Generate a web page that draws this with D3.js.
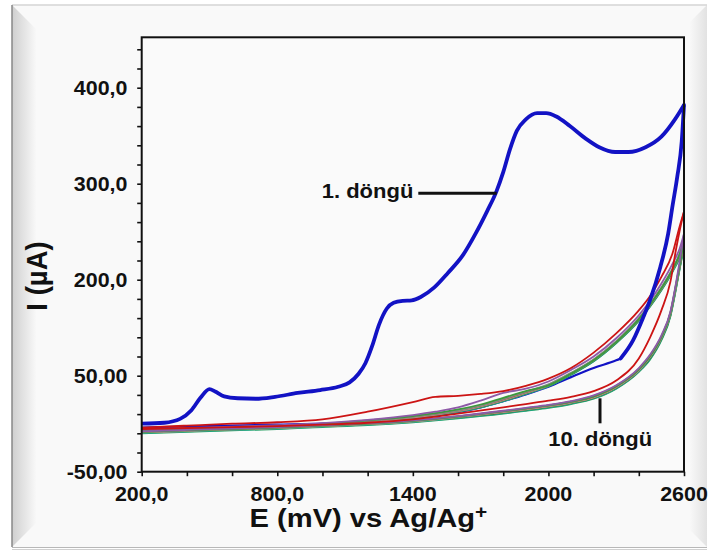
<!DOCTYPE html>
<html><head><meta charset="utf-8">
<script src="https://cdn.jsdelivr.net/npm/d3@7"></script>
<style>
html,body{margin:0;padding:0;background:#ffffff;}
svg{display:block;}
text{font-family:"Liberation Sans",Arial,sans-serif;font-weight:bold;fill:#111;}
</style></head>
<body>
<svg id="chart" width="718" height="551"></svg>
<script>
// ---------------- data ----------------
const xTickValues = [200, 800, 1400, 2000, 2600];
const xTickLabels = ["200,0", "800,0", "1400", "2000", "2600"];
const yTickValues = [0, 100, 200, 300, 400];
const yTickLabels = ["-50,00", "50,00", "200,0", "300,0", "400,0"];

// cycle 1 (blue)
const c1ForwardE = [200,300,370,420,460,500,525,565,625,705,790,890,990,1070,1120,1160,1190,1220,1250,1285,1315,1355,1395,1435,1495,1555,1620,1680,1730,1770,1800,1830,1860,1900,1950,1990,2035,2095,2165,2225,2295,2355,2430,2500,2560,2600];
const c1ForwardI = [50,51,55,64,77,86,83.5,78.5,76.5,76,78,82,85,88.5,93,102,113,131,153,170,176,178,178.5,182,192,207,225,249,272,292,312,336,355,367,373.5,373.5,370,360,347,338,333,333,338,349,367,382];
// reverse scan: steep thick part near the vertex, then thin inside the bundle
const c1ReverseHighE = [2600,2590,2570,2550,2530,2495,2450,2420,2375,2320];
const c1ReverseHighI = [382,344,307,278,248,213,179,161,137,118];
const c1ReverseLowE = [2320,2300,2200,2100,2000,1900,1800,1700,1600,1500,1400,1200,1000,800,600,400,200];
const c1ReverseLowI = [118,116,108,98.5,88.5,80.5,73.5,67,62,58.5,55.5,52,50,49,48,47,46];

// cycles 2-10 (thin lines)
const forwardE = [200,400,600,800,1000,1200,1400,1500,1600,1700,1800,1900,2000,2100,2200,2300,2400,2450,2500,2550,2580,2600];
const reverseE = [2600,2580,2565,2540,2500,2450,2400,2300,2200,2100,2000,1900,1800,1600,1400,1200,1000,800,600,400,200];
const cycleNames = ["2","3","4","5","6","7","8","9","10"];
const cycleColors = ["#cc1414","#8e5aa8","#3c9a3c","#8a8a8a","#957060","#d79a9a","#2e7d32","#20b0a0","#1f9c5a"];
const forwardI = [
  [46,48,50,51.5,54.5,62.5,72.5,78,79,81,84,89.5,97,108,124,144,168,183,203,228,255,271],
  [44,45.5,47,48.5,50.5,54,59,62.5,67,74,82,86.5,94,106,120,139,163,178,196,217,232,248],
  [43.5,45,46.5,48,50,53.5,58,61,65,70,77,84,90,102,116,135,159,174,191,211,226,241],
  [43,44.5,46,47.5,49.5,53,57.5,60.5,64,69,76,83.5,91,103,117,136,160,175,192,212,227,243],
  [42.5,44,45.5,47,49,52.5,57,60,63.5,68.5,75,82.5,90.5,102.5,116.5,135.5,159,174,191,211,226,240],
  [42.5,44,45.5,47,49,52,56.5,59.5,63,68,74.5,82,90,102,116,135,158.5,173.5,190.5,210.5,225,239],
  [42,43.5,45,46.5,48.5,52,56.5,59.5,63,67.5,74,81.5,89.5,101.5,115.5,134.5,158,173,190,210,224,237],
  [41.5,43,44.5,46,48,51.5,56,59,62.5,67,73.5,81,89,101,115,134,157.5,172.5,189.5,209,223,236],
  [41.5,43,44.5,46,48,51.5,56,59,62.5,67,73.5,81,89,101,115,134,157,172,189,208.5,222.5,235]
];
const reverseI = [
  [271,250,232,198,168,140,118,95,84,78,74,70.5,67,60.5,54.5,51,49,47.5,46.5,45.5,44.5],
  [248,218,197,167,142,122,108,90,79.5,73.5,69.5,66.5,63.5,58,53.5,50.5,48.5,46.5,45,43.5,42],
  [241,214,195,165.5,140.5,120.5,106.5,89,78.5,73,69,66,63,57.5,53,50,48,46,44.5,43,41.5],
  [243,215,195.5,166,141,121,107,89.5,79,73,69,66,63,57.5,53,50,48,46,44.5,43,41.5],
  [240,213,194,165,140,120,106,88.5,78,72.5,68.5,65.5,62.5,57.3,53,50,48,46,44.5,43,41.5],
  [239,212.5,193.5,164.5,139.5,119.5,105.5,88,77.5,72,68,65,62,57,52.5,49.5,47.5,45.5,44,42.5,41],
  [237,211.5,192.5,163.5,138.5,118.5,105,87.5,77,71.5,67.5,64.5,61.5,56.5,52.5,49.5,47.5,45.5,44,42.5,41],
  [236,211,192,163,138,118,104.5,87,76.5,71,67,64,61,56,52,49,47,45,43.5,42,40.5],
  [235,210,191,162,137,117,104,86.5,76,70.5,66.5,63.5,60.5,55.5,51.5,48.5,46.5,44.5,43,41.5,40]
];

// ---------------- drawing ----------------
const svg = d3.select("#chart");
const SX = 1.1; // horizontal stretch of the text in the reference

// outer frame with bevel
const defs = svg.append("defs");
const gl = defs.append("linearGradient").attr("id","gl").attr("x1","0").attr("x2","1").attr("y1","0").attr("y2","0");
gl.append("stop").attr("offset","0").attr("stop-color","#cfcfcf");
gl.append("stop").attr("offset","1").attr("stop-color","#f8f8f8");
const gr = defs.append("linearGradient").attr("id","gr").attr("x1","1").attr("x2","0").attr("y1","0").attr("y2","0");
gr.append("stop").attr("offset","0").attr("stop-color","#e2e2e2");
gr.append("stop").attr("offset","1").attr("stop-color","#f8f8f8");
svg.append("rect").attr("x",12).attr("y",5).attr("width",695).attr("height",542).attr("fill","#f9f9f9");
svg.append("polygon").attr("points","12,5 36,29 36,523 12,547").attr("fill","url(#gl)");
svg.append("polygon").attr("points","707,5 690,22 690,530 707,547").attr("fill","url(#gr)");
svg.append("line").attr("x1",12).attr("x2",707).attr("y1",5).attr("y2",5).attr("stroke","#d4d4d4").attr("stroke-width",1.5);
svg.append("line").attr("x1",12).attr("x2",12).attr("y1",5).attr("y2",547).attr("stroke","#888").attr("stroke-width",1.5);
svg.append("line").attr("x1",12).attr("x2",707).attr("y1",547.5).attr("y2",547.5).attr("stroke","#b8b8b8").attr("stroke-width",1);
svg.append("line").attr("x1",12).attr("x2",707).attr("y1",549.5).attr("y2",549.5).attr("stroke","#d0d0d0").attr("stroke-width",1);

const L = 141.7, R = 684, T = 37.3, B = 471.7;
const x = d3.scaleLinear().domain([200, 2600]).range([L, R]);
const y = d3.scaleLinear().domain([0, 452.5]).range([B, T]);

svg.append("rect").attr("x",L).attr("y",T).attr("width",R-L).attr("height",B-T).attr("fill","#fafafa");

// axes ticks
const xAxis = d3.axisBottom(x).tickValues(d3.range(200, 2601, 200)).tickSize(4.5).tickSizeOuter(0).tickFormat("");
const yAxis = d3.axisLeft(y).tickValues(d3.range(0, 441, 20)).tickSize(4.5).tickSizeOuter(0).tickFormat("");
const gx = svg.append("g").attr("transform",`translate(0,${B})`).call(xAxis);
const gy = svg.append("g").attr("transform",`translate(${L},0)`).call(yAxis);
[gx, gy].forEach(g => {
  g.select(".domain").remove();
  g.selectAll(".tick line").attr("stroke","#111").attr("stroke-width",1.6);
});

// curves
const line = d3.line().x(d => x(d[0])).y(d => y(d[1])).curve(d3.curveMonotoneX);
const pairs = (es, is) => es.map((e, i) => [e, is[i]]).sort((a, b) => a[0] - b[0]);
const curves = svg.append("g");

// thin blue part of cycle 1's reverse scan sits inside the bundle
curves.append("path").datum(pairs(c1ReverseLowE, c1ReverseLowI))
  .attr("d", line).attr("fill","none").attr("stroke","#1212c4").attr("stroke-width",2.2);

for (let k = cycleNames.length - 1; k >= 0; k--) {
  curves.append("path").datum(pairs(reverseE, reverseI[k]))
    .attr("d", line).attr("fill","none").attr("stroke", cycleColors[k]).attr("stroke-width", 1.8);
  curves.append("path").datum(pairs(forwardE, forwardI[k]))
    .attr("d", line).attr("fill","none").attr("stroke", cycleColors[k]).attr("stroke-width", 1.8);
}
// cycle 1 thick parts
curves.append("path").datum(pairs(c1ReverseHighE, c1ReverseHighI))
  .attr("d", line).attr("fill","none").attr("stroke","#1212c4").attr("stroke-width",3.8).attr("stroke-linecap","round");
curves.append("path").datum(pairs(c1ForwardE, c1ForwardI))
  .attr("d", line).attr("fill","none").attr("stroke","#1212c4").attr("stroke-width",3.8).attr("stroke-linejoin","round");

// plot frame
svg.append("rect").attr("x",L).attr("y",T).attr("width",R-L).attr("height",B-T)
  .attr("fill","none").attr("stroke","#111").attr("stroke-width",2);

// tick labels
xTickValues.forEach((v, i) => {
  svg.append("text").attr("transform",`translate(${x(v)},500.7) scale(${SX},1)`)
    .attr("text-anchor","middle").style("font-size","19.5px").text(xTickLabels[i]);
});
yTickValues.forEach((v, i) => {
  svg.append("text").attr("transform",`translate(127.5,${y(v)}) scale(${SX},1)`)
    .attr("text-anchor","end").attr("dy","0.36em").style("font-size","19.5px").text(yTickLabels[i]);
});

// axis titles
const xt = svg.append("text").attr("transform",`translate(249.5,527.3) scale(${SX},1)`)
  .attr("text-anchor","start").style("font-size","26.5px");
xt.append("tspan").text("E (mV) vs Ag/Ag");
xt.append("tspan").attr("dy","-9").style("font-size","19px").text("+");

svg.append("text").attr("transform",`translate(47,276) scale(${SX},1) rotate(-90)`)
  .attr("text-anchor","middle").style("font-size","27.5px").text("I (µA)");

// annotations
svg.append("text").attr("transform",`translate(321.7,198.3) scale(${SX},1)`)
  .style("font-size","20px").text("1. döngü");
svg.append("line").attr("x1",418.3).attr("x2",496.7).attr("y1",193.3).attr("y2",193.3)
  .attr("stroke","#111").attr("stroke-width",3);
svg.append("text").attr("transform",`translate(548.3,445.5) scale(${SX},1)`)
  .style("font-size","20px").text("10. döngü");
svg.append("line").attr("x1",600).attr("x2",600).attr("y1",398.3).attr("y2",423.3)
  .attr("stroke","#111").attr("stroke-width",3);
</script>
</body></html>
